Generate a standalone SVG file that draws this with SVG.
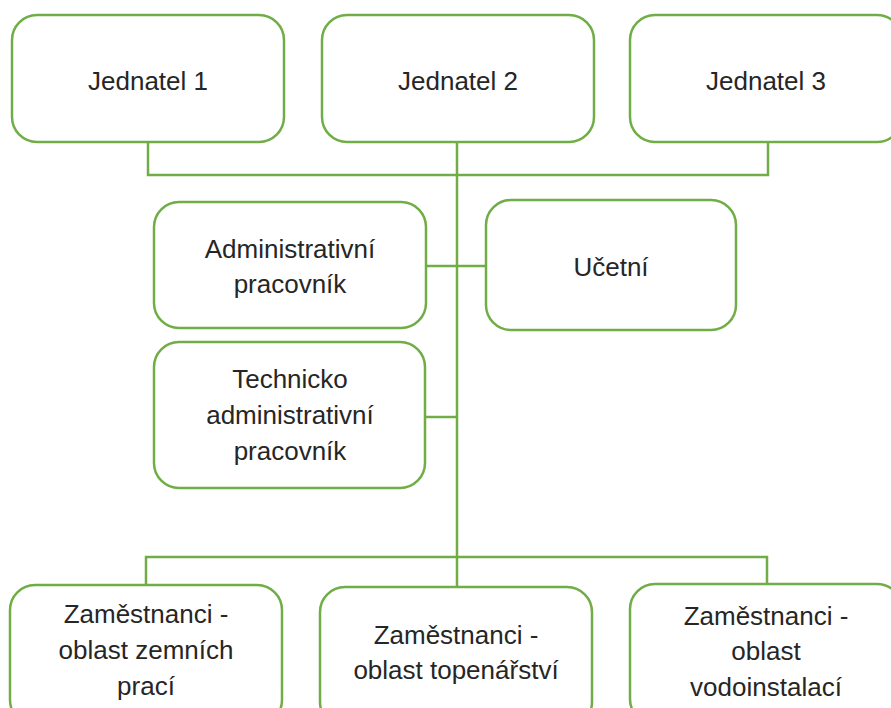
<svg xmlns="http://www.w3.org/2000/svg" width="891" height="708" viewBox="0 0 891 708">
<style>
.box{fill:#ffffff;stroke:#70ad47;stroke-width:2.5}
.con{fill:none;stroke:#70ad47;stroke-width:2.5}
text{font-family:"Liberation Sans",Arial,sans-serif;font-size:26px;fill:#262626;text-anchor:middle}
</style>
<rect width="891" height="708" fill="#ffffff"/>
<g id="connectors">
<path class="con" d="M148 142 V175 H768 V142"/>
<path class="con" d="M457 142 V586"/>
<path class="con" d="M426 266 H486"/>
<path class="con" d="M425 417 H457"/>
<path class="con" d="M146 584 V557 H767 V584"/>
</g>
<g id="jednatel1"><rect class="box" x="12" y="15" width="272" height="127" rx="25"/><text x="148" y="90">Jednatel 1</text></g>
<g id="jednatel2"><rect class="box" x="322" y="15" width="272" height="127" rx="25"/><text x="458" y="90">Jednatel 2</text></g>
<g id="jednatel3"><rect class="box" x="630" y="15" width="272" height="127" rx="25"/><text x="766" y="90">Jednatel 3</text></g>
<g id="admin"><rect class="box" x="154" y="202" width="272" height="126" rx="25"/><text x="290" y="258">Administrativní</text><text x="290" y="293">pracovník</text></g>
<g id="ucetni"><rect class="box" x="486" y="200" width="250" height="130" rx="25"/><text x="611" y="276">Učetní</text></g>
<g id="technicko"><rect class="box" x="154" y="342" width="271" height="146" rx="25"/><text x="290" y="388">Technicko</text><text x="290" y="424">administrativní</text><text x="290" y="460">pracovník</text></g>
<g id="zemni"><rect class="box" x="10" y="585" width="272" height="140" rx="25"/><text x="146" y="623">Zaměstnanci -</text><text x="146" y="659">oblast zemních</text><text x="146" y="695">prací</text></g>
<g id="topenarstvi"><rect class="box" x="320" y="587" width="272" height="140" rx="25"/><text x="456" y="644">Zaměstnanci -</text><text x="456" y="679">oblast topenářství</text></g>
<g id="vodoinstalace"><rect class="box" x="630" y="584" width="272" height="140" rx="25"/><text x="766" y="625">Zaměstnanci -</text><text x="766" y="660">oblast</text><text x="766" y="696">vodoinstalací</text></g>
</svg>
